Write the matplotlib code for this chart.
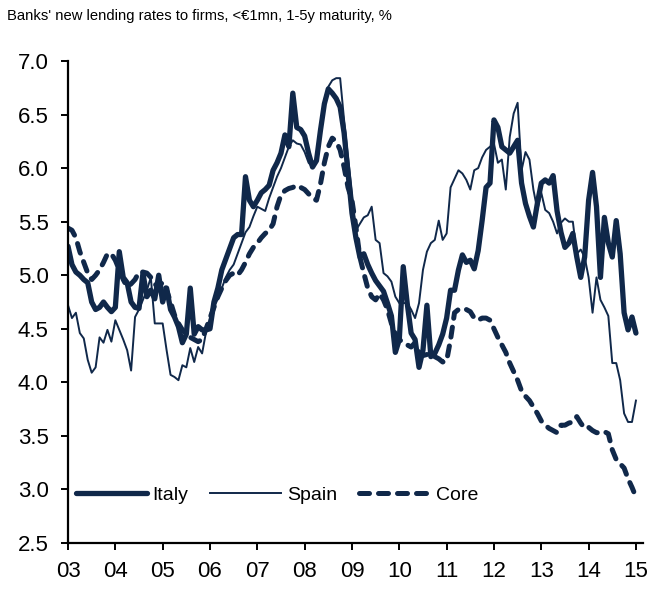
import numpy as np
import matplotlib
matplotlib.use("Agg")
import matplotlib.pyplot as plt

# monthly observations, Jan 2003 .. Jan 2015
start_year = 2003
italy = [
    5.27, 5.10, 5.03, 5.00, 4.96, 4.93, 4.75, 4.68, 4.70, 4.75, 4.70, 4.66,   # 2003
    4.70, 5.22, 4.98, 4.93, 4.75, 4.70, 4.69, 5.02, 4.80, 4.86, 4.78, 5.00,   # 2004
    4.75, 4.88, 4.68, 4.61, 4.52, 4.37, 4.45, 4.88, 4.45, 4.52, 4.49, 4.49,   # 2005
    4.50, 4.75, 4.88, 5.05, 5.15, 5.25, 5.35, 5.38, 5.38, 5.92, 5.70, 5.64,   # 2006
    5.70, 5.77, 5.80, 5.84, 5.98, 6.05, 6.14, 6.31, 6.20, 6.70, 6.38, 6.36,   # 2007
    6.30, 6.14, 6.01, 6.07, 6.35, 6.60, 6.74, 6.70, 6.65, 6.57, 6.33, 5.95,   # 2008
    5.58, 5.35, 5.17, 5.20, 5.10, 5.02, 4.95, 4.90, 4.85, 4.74, 4.62, 4.28,   # 2009
    4.40, 5.08, 4.74, 4.46, 4.40, 4.14, 4.30, 4.72, 4.24, 4.27, 4.35, 4.45,   # 2010
    4.60, 4.86, 4.86, 5.05, 5.19, 5.12, 5.14, 5.06, 5.23, 5.51, 5.82, 5.86,   # 2011
    6.45, 6.38, 6.20, 6.17, 6.14, 6.20, 6.26, 5.86, 5.67, 5.55, 5.45, 5.67,   # 2012
    5.86, 5.89, 5.86, 5.93, 5.60, 5.40, 5.26, 5.30, 5.39, 5.17, 4.98, 5.17,   # 2013
    5.70, 5.96, 5.64, 4.98, 5.54, 5.30, 5.17, 5.51, 5.20, 4.65, 4.49, 4.61,   # 2014
    4.46,
]
spain = [
    4.72, 4.60, 4.65, 4.46, 4.41, 4.21, 4.09, 4.14, 4.42, 4.37, 4.49, 4.38,
    4.58, 4.49, 4.40, 4.30, 4.11, 4.61, 4.68, 4.77, 4.86, 4.98, 4.55, 4.55,
    4.55, 4.30, 4.07, 4.05, 4.02, 4.16, 4.14, 4.32, 4.19, 4.33, 4.27, 4.47,
    4.60, 4.70, 4.78, 4.88, 4.98, 5.05, 5.10, 5.20, 5.30, 5.40, 5.45, 5.55,
    5.64, 5.62, 5.60, 5.72, 5.82, 5.92, 6.00, 6.10, 6.20, 6.26, 6.23, 6.22,
    6.15, 6.05, 6.01, 6.10, 6.40, 6.64, 6.76, 6.82, 6.84, 6.84, 6.45, 6.10,
    5.77, 5.42, 5.48, 5.54, 5.56, 5.64, 5.33, 5.30, 5.02, 4.99, 4.94, 4.80,
    4.74, 4.74, 4.74, 4.68, 4.60, 4.74, 5.05, 5.22, 5.30, 5.33, 5.51, 5.33,
    5.39, 5.82, 5.90, 5.98, 5.95, 5.89, 5.80, 5.98, 6.00, 6.10, 6.17, 6.20,
    6.23, 6.05, 6.08, 5.80, 6.29, 6.51, 6.61, 5.98, 6.15, 6.08, 5.80, 5.61,
    5.77, 5.61, 5.58, 5.50, 5.39, 5.49, 5.53, 5.50, 5.50, 5.20, 5.24, 5.17,
    4.98, 4.65, 4.98, 4.77, 4.70, 4.62, 4.18, 4.18, 4.02, 3.71, 3.63, 3.63,
    3.83,
]
core = [
    5.44, 5.42, 5.35, 5.22, 5.12, 5.02, 4.96, 5.00, 5.05, 5.12, 5.20, 5.20,
    5.14, 5.05, 4.96, 4.89, 4.92, 4.96, 5.03, 5.03, 5.02, 4.98, 4.92, 4.88,
    4.94, 4.86, 4.75, 4.63, 4.55, 4.49, 4.45, 4.42, 4.40, 4.38, 4.40, 4.50,
    4.60, 4.70, 4.80, 4.88, 4.95, 5.00, 5.02, 5.00, 5.05, 5.12, 5.20, 5.26,
    5.30, 5.35, 5.39, 5.42, 5.48, 5.64, 5.75, 5.79, 5.81, 5.82, 5.84, 5.82,
    5.80, 5.76, 5.72, 5.70, 5.85, 6.05, 6.20, 6.28, 6.25, 6.17, 6.01, 5.82,
    5.70, 5.45, 5.17, 5.02, 4.88, 4.80, 4.77, 4.83, 4.77, 4.68, 4.55, 4.45,
    4.40, 4.37, 4.35, 4.33, 4.37, 4.28, 4.25, 4.26, 4.27, 4.24, 4.22, 4.19,
    4.20, 4.40, 4.65, 4.68, 4.69, 4.68, 4.66, 4.60, 4.58, 4.60, 4.60, 4.58,
    4.50, 4.42, 4.35, 4.28, 4.18, 4.10, 4.02, 3.92, 3.87, 3.83, 3.77, 3.71,
    3.64, 3.60, 3.57, 3.55, 3.53, 3.60, 3.60, 3.62, 3.63, 3.68, 3.62, 3.57,
    3.58, 3.55, 3.53, 3.53, 3.54, 3.52, 3.37, 3.28, 3.24, 3.20, 3.10, 3.02,
    2.93,
]
year_ticks = list(range(2003, 2016))
year_labels = ["%02d" % (y % 100) for y in year_ticks]
y_ticks = [2.5, 3.0, 3.5, 4.0, 4.5, 5.0, 5.5, 6.0, 6.5, 7.0]

t = start_year + np.arange(len(italy)) / 12.0

plt.rcParams["font.family"] = ["Liberation Sans", "DejaVu Sans"]

navy = "#10284a"

fig = plt.figure(figsize=(6.72, 5.93), dpi=100)
ax = fig.add_axes([0.1012, 0.0843, 0.8557, 0.8128])

ax.plot(t, italy, color=navy, lw=3.8, solid_capstyle="round", solid_joinstyle="round", label="Italy")
ax.plot(t, spain, color=navy, lw=1.4, label="Spain")
ax.plot(t, core, color=navy, lw=3.6, linestyle=(0, (2.0, 1.8)), dash_capstyle="round", label="Core")

ax.set_xlim(2003, 2015.15)
ax.set_ylim(2.5, 7.0)
ax.set_xticks(year_ticks)
ax.set_xticklabels(year_labels)
ax.set_yticks(y_ticks)
ax.set_yticklabels(["%.1f" % v for v in y_ticks])

for s in ["top", "right"]:
    ax.spines[s].set_visible(False)
for s in ["left", "bottom"]:
    ax.spines[s].set_linewidth(1.6)
ax.tick_params(axis="both", direction="out", length=5, width=1.4, labelsize=16)
ax.tick_params(axis="y", pad=9)
ax.tick_params(axis="x", pad=8)

leg = ax.legend(loc="center left", bbox_to_anchor=(0.0, 0.1), ncol=3, frameon=False,
                fontsize=14, handlelength=3.65, handletextpad=0.3, columnspacing=1.13,
                borderaxespad=0.0)

fig.text(0.011, 0.985, "Banks' new lending rates to firms, <€1mn, 1-5y maturity, %",
         fontsize=10.6, ha="left", va="top")

fig.savefig("out.png", dpi=100)
